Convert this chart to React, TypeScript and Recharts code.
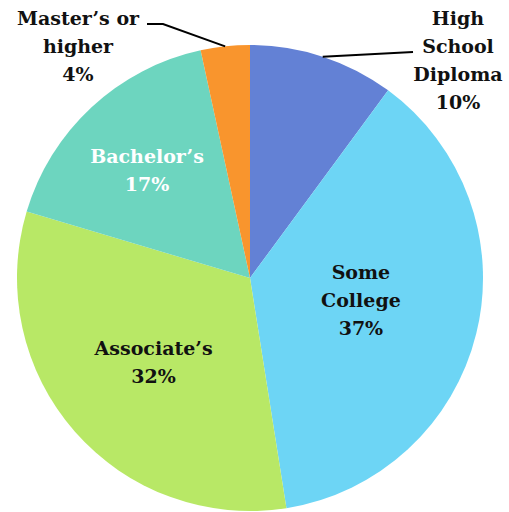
import { PieChart, Pie, Cell } from 'recharts';

const categories = ['High School Diploma', 'Some College', 'Associate’s', 'Bachelor’s', 'Master’s or higher'];
const shares = [10.1, 37.4, 32.1, 17.0, 3.4];
const shareLabels = ['10%', '37%', '32%', '17%', '4%'];
const labelLines = [
  ['High', 'School', 'Diploma'],
  ['Some', 'College'],
  ['Associate’s'],
  ['Bachelor’s'],
  ['Master’s or', 'higher'],
];
const colors = ['#6381d5', '#6dd5f5', '#b8e866', '#6dd5bf', '#f9952d'];
const textColors = ['#111', '#111', '#111', '#fff', '#111'];

const data = categories.map((name, i) => ({ name, value: shares[i] }));

// label placement: inside labels use a radius factor (+ small vertical nudge),
// outside ones an elbow + text spot (relative to centre)
const inside: Record<number, { r: number; dy: number }> = {
  1: { r: 0.49, dy: -5 },
  2: { r: 0.55, dy: 0 },
  3: { r: 0.65, dy: 3 },
};
const outside: Record<number, { elbow: [number, number]; end: [number, number]; text: [number, number] }> = {
  0: { elbow: [163, -226], end: [163, -226], text: [208, -218] },
  4: { elbow: [-87, -254], end: [-103, -254], text: [-172, -232] },
};

const RAD = Math.PI / 180;
const LH = 28;

function renderLabel(props: any) {
  const { cx, cy, midAngle, outerRadius, index } = props;
  const lines = [...labelLines[index], shareLabels[index]];
  const cos = Math.cos(-midAngle * RAD);
  const sin = Math.sin(-midAngle * RAD);
  let tx: number;
  let ty: number;
  let leader = null;
  if (outside[index]) {
    const o = outside[index];
    const ax = cx + outerRadius * cos;
    const ay = cy + outerRadius * sin;
    tx = cx + o.text[0];
    ty = cy + o.text[1];
    leader = (
      <polyline
        points={`${ax},${ay} ${cx + o.elbow[0]},${cy + o.elbow[1]} ${cx + o.end[0]},${cy + o.end[1]}`}
        fill="none"
        stroke="#000"
        strokeWidth={2}
      />
    );
  } else {
    const p = inside[index];
    const r = outerRadius * p.r;
    tx = cx + r * cos;
    ty = cy + r * sin + p.dy;
  }
  const y0 = ty - ((lines.length - 1) * LH) / 2;
  return (
    <g key={`lbl-${index}`}>
      {leader}
      <text
        x={tx}
        y={y0}
        textAnchor="middle"
        dominantBaseline="central"
        fill={textColors[index]}
        fontFamily="DejaVu Serif"
        fontWeight="bold"
        fontSize={19}
      >
        {lines.map((l, i) => (
          <tspan key={i} x={tx} dy={i === 0 ? 0 : LH}>
            {l}
          </tspan>
        ))}
      </text>
    </g>
  );
}

export default function App() {
  return (
    <div style={{ position: 'absolute', left: 0, top: 0, background: '#fff' }}>
      <PieChart width={509} height={512} margin={{ top: 0, right: 0, bottom: 0, left: 0 }}>
        <Pie
          data={data}
          dataKey="value"
          nameKey="name"
          cx={250}
          cy={278}
          outerRadius={233}
          startAngle={90}
          endAngle={-270}
          stroke="none"
          label={renderLabel}
          labelLine={false}
          isAnimationActive={false}
        >
          {data.map((d, i) => (
            <Cell key={d.name} fill={colors[i]} />
          ))}
        </Pie>
      </PieChart>
    </div>
  );
}
